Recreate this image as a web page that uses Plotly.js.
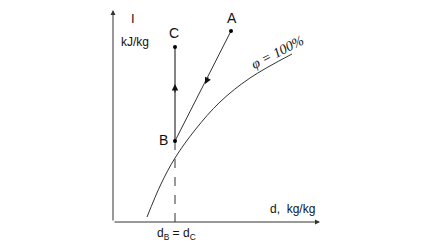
<!DOCTYPE html>
<html><head><meta charset="utf-8">
<script src="https://cdn.plot.ly/plotly-3.0.1.min.js"></script>
<style>html,body{margin:0;padding:0;background:#fff}</style>
</head><body><div id="chart" style="width:434px;height:242px"></div>
<script>
// Schematic I-d diagram (arbitrary units: d horizontal, I vertical)
const pointNames = ["A", "B", "C"];
const pointD = [118, 62, 62];
const pointI = [191, 81, 175];
// saturation curve phi = 100%
const satD = [34, 48, 62, 82, 107, 137, 179];
const satI = [5, 38, 64, 92, 120, 144, 168];
const axisEndD = 207;
const axisEndI = 212;
const dashTop = 81;

const lineColor = "#333";
const traces = [
  {x: satD, y: satI, mode: "lines", line: {color: lineColor, width: 1, shape: "spline", smoothing: 1}, hoverinfo: "skip"},
  {x: [pointD[0], pointD[1]], y: [pointI[0], pointI[1]], mode: "lines", line: {color: lineColor, width: 1}},
  {x: [pointD[2], pointD[1]], y: [pointI[2], pointI[1]], mode: "lines", line: {color: lineColor, width: 1.2}},
  {x: [pointD[1], pointD[1]], y: [dashTop, 0], mode: "lines", line: {color: lineColor, width: 1, dash: "dash"}},
  {x: pointD, y: pointI, mode: "markers", marker: {color: "#000", size: 4}}
];

const font = {family: "Liberation Sans, Arial, sans-serif", size: 13, color: "#111"};
const annotations = [
  // axes
  {x: 0, y: axisEndI, ax: 0, ay: 0, axref: "x", ayref: "y", xref: "x", yref: "y", text: "", showarrow: true, arrowhead: 2, arrowsize: 1, arrowwidth: 1, arrowcolor: lineColor, standoff: 0, startstandoff: 0},
  {x: axisEndD, y: 0, ax: 0, ay: 0, axref: "x", ayref: "y", xref: "x", yref: "y", text: "", showarrow: true, arrowhead: 2, arrowsize: 1, arrowwidth: 1, arrowcolor: lineColor, standoff: 0, startstandoff: 0},
  // flow arrows
  {x: 62, y: 138, ax: 62, ay: 128, axref: "x", ayref: "y", xref: "x", yref: "y", text: "", showarrow: true, arrowhead: 2, arrowsize: 1.3, arrowwidth: 1, arrowcolor: "#111"},
  {x: 92, y: 138, ax: 96, ay: 146, axref: "x", ayref: "y", xref: "x", yref: "y", text: "", showarrow: true, arrowhead: 2, arrowsize: 1.3, arrowwidth: 1, arrowcolor: "#111"},
  // labels
  {x: pointD[0] + 1, y: pointI[0] + 13, text: "A", showarrow: false, font: Object.assign({}, font, {size: 14})},
  {x: pointD[2] - 1, y: pointI[2] + 14, text: "C", showarrow: false, font: Object.assign({}, font, {size: 14})},
  {x: pointD[1] - 12, y: pointI[1] + 1, text: "B", showarrow: false, font: Object.assign({}, font, {size: 14})},
  {x: 20, y: 204, text: "I", showarrow: false, font: Object.assign({}, font, {size: 13})},
  {x: 22, y: 180, text: "kJ/kg", showarrow: false, font: Object.assign({}, font, {size: 12})},
  {x: 179, y: 13, text: "d,  kg/kg", showarrow: false, font: Object.assign({}, font, {size: 12})},
  {x: 63, y: -12, text: "d<sub>B</sub> = d<sub>C</sub>", showarrow: false, font: Object.assign({}, font, {size: 12})},
  {x: 164, y: 170, text: "φ = 100%", showarrow: false, textangle: -27, font: {family: "Liberation Serif, Times New Roman, serif", size: 14, color: "#111", style: "italic"}}
];

const layout = {
  width: 434, height: 242,
  margin: {l: 0, r: 0, t: 0, b: 0},
  paper_bgcolor: "#fff", plot_bgcolor: "#fff",
  showlegend: false,
  xaxis: {range: [-113, 321], visible: false, fixedrange: true},
  yaxis: {range: [-20, 222], visible: false, fixedrange: true},
  annotations: annotations
};
Plotly.newPlot("chart", traces, layout, {displayModeBar: false, staticPlot: true});
</script></body></html>
